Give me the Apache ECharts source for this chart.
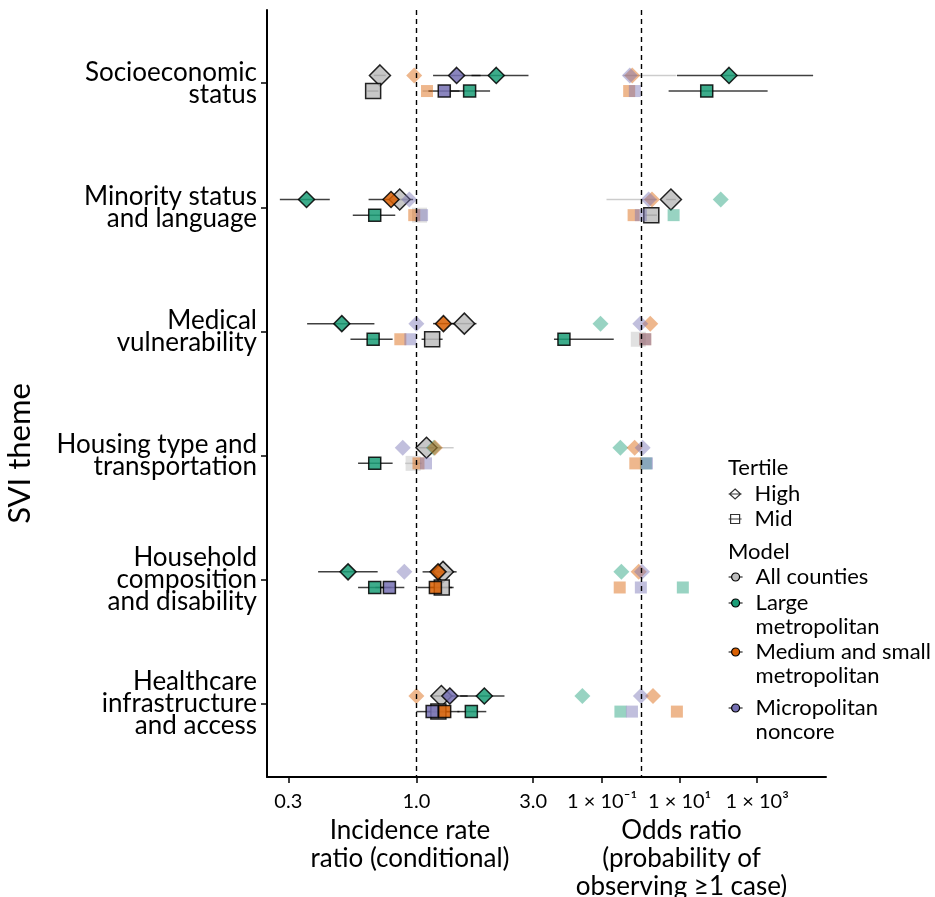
<!DOCTYPE html>
<html><head><meta charset="utf-8">
<script src="https://cdn.jsdelivr.net/npm/echarts@6/dist/echarts.min.js"></script>
<style>html,body{margin:0;padding:0;background:#fff}#c{width:935px;height:897px}</style>
</head><body><div id="c"></div>
<script>
// ---------- data ----------
const themes = ['Socioeconomic\nstatus', 'Minority status\nand language', 'Medical\nvulnerability',
  'Housing type and\ntransportation', 'Household\ncomposition\nand disability', 'Healthcare\ninfrastructure\nand access'];
const models = ['All counties', 'Large metropolitan', 'Medium and small metropolitan', 'Micropolitan noncore'];
const modelLabels = ['All counties', 'Large\nmetropolitan', 'Medium and small\nmetropolitan', 'Micropolitan\nnoncore'];
const tertiles = ['High', 'Mid'];
const modelColors = ['#bdbdbd', '#1b9e77', '#d95f02', '#7570b3'];

const irrTicks = [0.3, 1.0, 3.0];
const irrTickLabels = ['0.3', '1.0', '3.0'];
const orTicks = [0.1, 10, 1000];
const orTickLabels = ['1 × 10⁻¹', '1 × 10¹', '1 × 10³'];

// each row: [estimate, lower CI, upper CI, significant(1/0)], one row per theme
const irrAllHigh   = [[0.71,0.67,0.75,1],[0.855,0.79,0.93,1],[1.57,1.40,1.76,1],[1.10,1.02,1.18,1],[1.285,1.15,1.46,1],[1.265,1.15,1.38,1]];
const irrAllMid    = [[0.666,0.63,0.70,1],[1.03,null,null,0],[1.16,1.05,1.28,1],[0.97,0.90,1.05,0],[1.27,1.14,1.42,1],[1.23,1.10,1.37,1]];
const irrLargeHigh = [[2.12,1.68,2.87,1],[0.356,0.277,0.443,1],[0.496,0.358,0.674,1],[1.18,1.0,1.42,0],[0.526,0.397,0.695,1],[1.895,1.51,2.29,1]];
const irrLargeMid  = [[1.65,1.38,2.0,1],[0.676,0.55,0.82,1],[0.666,0.538,0.80,1],[0.676,0.578,0.80,1],[0.676,0.578,0.79,1],[1.677,1.47,1.93,1]];
const irrMedHigh   = [[0.98,null,null,0],[0.788,0.638,0.97,1],[1.29,1.17,1.45,1],[1.19,null,null,0],[1.226,1.06,1.42,1],[1.0,null,null,0]];
const irrMedMid    = [[1.105,1.06,1.16,0],[0.98,null,null,0],[0.86,null,null,0],[1.02,null,null,0],[1.196,1.01,1.40,1],[1.305,1.13,1.50,1]];
const irrMicroHigh = [[1.46,1.17,1.83,1],[0.936,null,null,0],[1.0,null,null,0],[0.88,null,null,0],[0.893,null,null,0],[1.37,1.15,1.62,1]];
const irrMicroMid  = [[1.30,1.12,1.50,1],[1.055,null,null,0],[0.945,null,null,0],[1.095,null,null,0],[0.776,0.68,0.893,1],[1.16,1.0,1.33,1]];

const orAllHigh    = [null,[5.97,4.5,8.0,1],null,null,null,null];
const orAllMid     = [null,[1.86,1.3,2.6,1],[0.86,null,null,0],null,null,null];
const orLargeHigh  = [[188,8.5,27700,1],[115,null,null,0],[0.091,null,null,0],[0.297,null,null,0],[0.315,null,null,0],[0.031,null,null,0]];
const orLargeMid   = [[50,5.2,1860,1],[7.0,null,null,0],[0.0104,0.00575,0.2,1],[1.35,null,null,0],[12.1,null,null,0],[0.297,null,null,0]];
const orMedHigh    = [[0.6,null,null,0],[1.94,0.13,2.6,0],[1.75,null,null,0],[0.69,null,null,0],[0.88,null,null,0],[2.06,null,null,0]];
const orMedMid     = [[0.5,null,null,0],[0.65,null,null,0],[1.3,null,null,0],[0.72,null,null,0],[0.285,null,null,0],[8.5,null,null,0]];
const orMicroHigh  = [[0.52,0.35,8.0,0],[1.59,null,null,0],[0.97,null,null,0],[1.11,null,null,0],[1.07,null,null,0],[1.0,null,null,0]];
const orMicroMid   = [[0.7,null,null,0],[1.0,null,null,0],[1.3,null,null,0],[1.44,null,null,0],[1.0,null,null,0],[0.59,null,null,0]];

// ---------- build ----------
const irrSets = [[irrAllHigh, irrAllMid], [irrLargeHigh, irrLargeMid], [irrMedHigh, irrMedMid], [irrMicroHigh, irrMicroMid]];
const orSets = [[orAllHigh, orAllMid], [orLargeHigh, orLargeMid], [orMedHigh, orMedMid], [orMicroHigh, orMicroMid]];
const dodge = [-0.063, 0.063];
const FONT = 'Lato';
const lg = Math.log10;

function pointSeries(sets, ai) {
  const out = [];
  sets.forEach((pair, m) => {
    pair.forEach((rows, t) => {
      const data = [];
      rows.forEach((r, i) => {
        if (!r) return;
        data.push({ value: [lg(r[0]), i + 1 + dodge[t]],
          itemStyle: { opacity: r[3] ? 0.85 : 0.45, borderWidth: r[3] ? 1.5 : 0 } });
      });
      const big = m === 0;
      out.push({
        type: 'scatter', name: models[m], xAxisIndex: ai, yAxisIndex: ai,
        symbol: t === 0 ? 'diamond' : 'rect',
        symbolSize: t === 0 ? (big ? 21 : 16) : (big ? 15 : 12),
        itemStyle: { color: modelColors[m], borderColor: '#000' },
        data, z: 3, silent: true, emphasis: { disabled: true }
      });
    });
  });
  return out;
}

function barSeries(sets, ai) {
  const data = [];
  sets.forEach((pair) => pair.forEach((rows, t) => rows.forEach((r, i) => {
    if (!r || r[1] == null) return;
    data.push([lg(r[1]), i + 1 + dodge[t], lg(r[2]), r[3]]);
  })));
  return {
    type: 'custom', xAxisIndex: ai, yAxisIndex: ai, z: 2, silent: true,
    encode: { x: [0, 2], y: 1 },
    renderItem(params, api) {
      const a = api.coord([api.value(0), api.value(1)]);
      const b = api.coord([api.value(2), api.value(1)]);
      const sig = api.value(3);
      return { type: 'line', shape: { x1: a[0], y1: a[1], x2: b[0], y2: b[1] },
        style: { stroke: sig ? 'rgba(0,0,0,0.75)' : 'rgba(0,0,0,0.2)', lineWidth: 1.5 } };
    },
    data,
    markLine: { silent: true, symbol: 'none', label: { show: false },
      lineStyle: { color: '#000', type: [5, 4], width: 1.4 }, data: [{ xAxis: 0 }] }
  };
}

function tickLabel(ticks, labels) {
  return (v) => {
    for (let i = 0; i < ticks.length; i++) if (Math.abs(lg(ticks[i]) - v) < 1e-6) return labels[i];
    return '';
  };
}

const xName = { fontFamily: FONT, fontSize: 26, lineHeight: 28, color: '#000' };
function xAxis(gi, min, max, ticks, labels, name, pad) {
  const cv = ticks.map(lg);
  return {
    type: 'value', gridIndex: gi, min, max,
    axisLine: { show: true, onZero: false, lineStyle: { color: '#000', width: 2 } },
    axisTick: { show: true, customValues: cv, length: 6, lineStyle: { color: '#000', width: 1.5 } },
    axisLabel: { customValues: cv, formatter: tickLabel(ticks, labels), margin: 15,
      fontFamily: FONT, fontSize: 20, color: '#000' },
    splitLine: { show: false },
    name, nameLocation: 'middle', nameGap: 38,
    nameTextStyle: Object.assign({ padding: pad }, xName)
  };
}

const highIcon = 'path://M0,5L13,5M6.5,0L12,5L6.5,10L1,5Z';
const midIcon = 'path://M0,5L13,5M2,0.5L11,0.5L11,9.5L2,9.5Z';
const modelIcon = 'path://M0,4L3,4M11,4L14,4M11,4A4,4,0,1,1,3,4A4,4,0,1,1,11,4Z';
const legText = { fontFamily: FONT, fontSize: 22, lineHeight: 24, color: '#000' };
const modelTops = [566, 592, 641, 697];

const legends = [{
  data: tertiles.map((n, i) => ({ name: n, icon: i === 0 ? highIcon : midIcon,
    itemStyle: { color: '#fff', borderColor: '#000', borderWidth: 1.2 } })),
  orient: 'vertical', left: 728, top: 482, itemWidth: 13, itemHeight: 10, itemGap: 1,
  padding: 0, selectedMode: false,
  textStyle: Object.assign({ padding: [0, 0, 0, 8] }, legText)
}];
models.forEach((n, m) => {
  const lines = modelLabels[m].split('\n');
  legends.push({
    data: [{ name: n, icon: modelIcon,
      itemStyle: { color: modelColors[m], borderColor: '#000', borderWidth: 1.2, opacity: 1 } }],
    orient: 'vertical', left: 728, top: modelTops[m], itemWidth: 14, itemHeight: 8,
    padding: 0, selectedMode: false,
    formatter: () => lines.map(s => '{t|' + s + '}').join('\n'),
    textStyle: { padding: [lines.length > 1 ? 24 : 0, 0, 0, 8], rich: { t: legText } }
  });
});

const option = {
  animation: false,
  backgroundColor: '#fff',
  title: [
    { text: 'Tertile', left: 728, top: 457, padding: 0, textStyle: { fontFamily: FONT, fontSize: 22, fontWeight: 'normal', color: '#000' } },
    { text: 'Model', left: 728, top: 541, padding: 0, textStyle: { fontFamily: FONT, fontSize: 22, fontWeight: 'normal', color: '#000' } }
  ],
  legend: legends,
  grid: [
    { left: 267, top: 10, width: 274, height: 767, containLabel: false, outerBoundsMode: 'none' },
    { left: 541, top: 10, width: 285, height: 767, containLabel: false, outerBoundsMode: 'none' }
  ],
  xAxis: [
    xAxis(0, -0.61, 0.509, irrTicks, irrTickLabels, 'Incidence rate\nratio (conditional)', [0, 0, 0, 12]),
    xAxis(1, -2.575, 4.775, orTicks, orTickLabels, 'Odds ratio\n(probability of\nobserving ≥1 case)', [0, 4, 0, 0])
  ],
  yAxis: [
    {
      type: 'value', gridIndex: 0, inverse: true, min: 0.41, max: 6.59,
      axisLine: { show: true, onZero: false, lineStyle: { color: '#000', width: 2 } },
      axisTick: { show: true, customValues: [1, 2, 3, 4, 5, 6], length: 6, lineStyle: { color: '#000', width: 1.5 } },
      axisLabel: { customValues: [1, 2, 3, 4, 5, 6], formatter: (v) => themes[Math.round(v) - 1],
        margin: 10, fontFamily: FONT, fontSize: 26, lineHeight: 22, color: '#000', align: 'right' },
      splitLine: { show: false },
      name: 'SVI theme', nameLocation: 'middle', nameGap: 232, nameRotate: 90,
      nameTextStyle: { fontFamily: FONT, fontSize: 31, color: '#000', padding: [0, 120, 0, 0] }
    },
    { type: 'value', gridIndex: 1, inverse: true, min: 0.41, max: 6.59, show: false }
  ],
  series: [
    barSeries(irrSets, 0),
    barSeries(orSets, 1),
    ...pointSeries(irrSets, 0),
    ...pointSeries(orSets, 1),
    { type: 'scatter', name: 'High', xAxisIndex: 0, yAxisIndex: 0, data: [] },
    { type: 'scatter', name: 'Mid', xAxisIndex: 0, yAxisIndex: 0, data: [] }
  ]
};

const chart = echarts.init(document.getElementById('c'), null, { renderer: 'canvas' });
chart.setOption(option);
</script></body></html>
